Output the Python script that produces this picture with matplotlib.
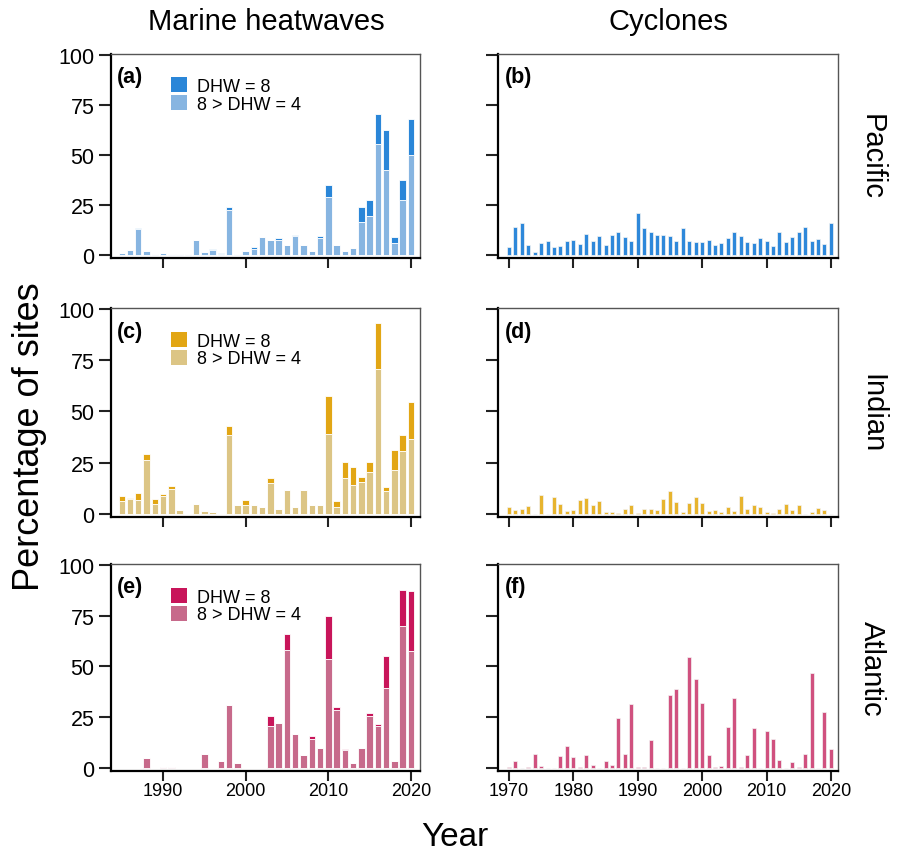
import numpy as np
import matplotlib.pyplot as plt
from matplotlib.patches import Patch

plt.rcParams['font.family'] = ['Liberation Sans', 'DejaVu Sans']

# marine heatwaves, % of sites per year (8 > DHW >= 4 and DHW >= 8)
mhw_years = np.arange(1985, 2021)
pac_mod = [1.0, 2.7, 12.9, 2.2, 0.3, 0.8, 0.3, 0.3, 0.3, 7.4, 1.3, 2.5, 0.5, 22.5, 0.4, 1.9, 3.2, 9.1,
           7.6, 7.6, 5.1, 9.6, 5.2, 2.2, 8.6, 28.8, 5.0, 1.9, 3.7, 16.7, 19.7, 55.4, 42.5, 6.2, 27.3, 50.0]
pac_sev = [0, 0, 0.7, 0, 0, 0, 0, 0, 0, 0, 0, 0.4, 0.5, 1.4, 0, 0, 0.7, 0,
           0, 0.8, 0, 0.5, 0, 0, 1.0, 6.4, 0, 0, 0, 7.2, 7.6, 15.3, 20.0, 2.9, 10.4, 18.2]
ind_mod = [6.4, 7.1, 7.0, 26.4, 4.9, 8.7, 12.0, 2.0, 0, 4.8, 1.5, 1.1, 0, 38.5, 4.3, 4.4, 4.6, 3.2,
           15.2, 2.5, 11.8, 3.4, 11.5, 4.6, 4.6, 38.9, 3.6, 17.7, 13.9, 15.7, 20.7, 70.5, 11.3, 21.6, 30.8, 36.8]
ind_sev = [2.5, 0.8, 3.3, 2.8, 2.3, 1.1, 1.6, 0, 0, 0, 0, 0, 0, 4.6, 0, 2.5, 0, 0,
           2.3, 0, 0, 0, 0, 0, 0, 18.5, 2.8, 7.7, 9.2, 2.5, 4.4, 22.5, 2.0, 9.5, 7.7, 18.0]
atl_mod = [0, 0, 0, 5.0, 0, 0.5, 0.5, 0, 0, 0, 7.1, 0.2, 3.3, 30.9, 2.5, 0, 0, 0,
           20.6, 22.1, 58.3, 16.7, 6.4, 14.4, 9.6, 53.5, 28.8, 8.7, 2.5, 9.6, 25.4, 20.6, 39.3, 3.5, 69.8, 57.4]
atl_sev = [0, 0, 0, 0, 0, 0, 0, 0, 0, 0, 0, 0, 0, 0, 0, 0, 0, 0,
           5.0, 0, 7.9, 0, 0, 1.3, 0, 21.6, 1.2, 0.5, 0, 0, 1.5, 1.3, 16.0, 0, 17.7, 29.9]

# cyclones, % of sites per year
cyc_years = np.arange(1970, 2021)
pac_cyc = [3.8, 14.2, 16.2, 5.0, 1.7, 6.0, 7.0, 4.2, 4.5, 6.8, 7.5, 5.5, 10.7, 7.2, 9.7, 5.2, 10.0,
           11.7, 8.8, 7.0, 21.2, 13.7, 11.3, 10.0, 10.2, 9.3, 7.2, 13.3, 7.0, 6.7, 6.5, 7.7, 5.0, 5.8,
           8.3, 11.7, 9.3, 6.3, 6.0, 8.7, 7.0, 4.7, 11.7, 6.3, 9.2, 11.7, 14.2, 6.8, 8.2, 5.7, 16.0]
ind_cyc = [3.4, 2.1, 2.5, 3.9, 0, 9.3, 0, 8.2, 4.9, 1.3, 2.1, 6.7, 7.9, 4.4, 6.2, 0.8, 0.8,
           0.5, 2.6, 4.6, 0.3, 2.3, 2.6, 2.1, 7.2, 11.0, 5.7, 0.8, 5.2, 8.2, 5.2, 1.5, 2.0, 0.8,
           3.3, 1.5, 8.7, 2.6, 4.6, 3.6, 1.1, 0.3, 2.3, 4.8, 2.1, 4.3, 0, 0.8, 3.0, 1.8, 0]
atl_cyc = [0.3, 3.5, 0, 0.3, 6.7, 1.0, 0, 0, 5.7, 11.0, 5.3, 0.7, 6.3, 1.3, 0, 3.3, 1.3,
           24.5, 7.0, 31.5, 0.3, 0.3, 14.0, 0, 0, 36.0, 39.0, 0, 54.5, 43.8, 32.0, 6.2, 0.3, 0.8,
           20.0, 34.7, 0.3, 6.3, 19.8, 0.2, 18.0, 14.3, 3.7, 0, 2.7, 0.5, 7.0, 46.8, 0, 27.8, 9.2]

oceans = ['Pacific', 'Indian', 'Atlantic']
mods = [pac_mod, ind_mod, atl_mod]
sevs = [pac_sev, ind_sev, atl_sev]
cycs = [pac_cyc, ind_cyc, atl_cyc]
dark = ['#2a86d8', '#e2a614', '#c8155a']
light = ['#87b5e1', '#dcc585', '#c76a8b']
cyc_col = ['#2e88da', '#e7b42e', '#d0517f']
letters = [('(a)', '(b)'), ('(c)', '(d)'), ('(e)', '(f)')]

fig = plt.figure(figsize=(9.03, 8.53), dpi=100)
W, H = 903, 853
rows = [(55, 259), (309, 518), (565, 772)]


def style(ax):
    ax.spines['left'].set_linewidth(1.6)
    ax.spines['bottom'].set_linewidth(1.6)
    for s in ['top', 'right']:
        ax.spines[s].set_linewidth(1.0)
        ax.spines[s].set_color('#555555')
    ax.tick_params(direction='out', width=1.5, colors='#222222', labelcolor='black')
    ax.tick_params(axis='y', labelsize=15.5, length=9, pad=3)
    ax.tick_params(axis='x', labelsize=13, length=7, pad=1)
    ax.set_ylim(-1.5, 100.5)
    ax.set_yticks([0, 25, 50, 75, 100])


for i in range(3):
    top, bot = rows[i]
    axL = fig.add_axes([111 / W, 1 - bot / H, 309 / W, (bot - top) / H])
    axR = fig.add_axes([498 / W, 1 - bot / H, 340 / W, (bot - top) / H])

    axL.bar(mhw_years, mods[i], width=0.78, color=light[i], edgecolor='white', linewidth=0.6)
    axL.bar(mhw_years, sevs[i], width=0.78, bottom=mods[i], color=dark[i], edgecolor='white', linewidth=0.6)
    axL.set_xlim(1983.7, 2021.1)
    axL.set_xticks([1990, 2000, 2010, 2020])
    style(axL)
    axL.text(0.02, 0.94, letters[i][0], transform=axL.transAxes, fontsize=15.5,
             fontweight='bold', va='top', ha='left')
    handles = [Patch(facecolor=dark[i], label='DHW = 8'),
               Patch(facecolor=light[i], label='8 > DHW = 4')]
    axL.legend(handles=handles, loc='upper left', bbox_to_anchor=(0.195, 0.885), frameon=False,
               fontsize=13, handlelength=0.85, handleheight=0.9, handletextpad=0.6,
               labelspacing=0.0, borderaxespad=0, borderpad=0)

    axR.bar(cyc_years, cycs[i], width=0.62, color=cyc_col[i], edgecolor='#f4f4f4', linewidth=0.5)
    axR.set_xlim(1968.3, 2021.1)
    axR.set_xticks([1970, 1980, 1990, 2000, 2010, 2020])
    style(axR)
    axR.set_yticklabels([])
    axR.text(0.02, 0.94, letters[i][1], transform=axR.transAxes, fontsize=15.5,
             fontweight='bold', va='top', ha='left')

    if i < 2:
        axL.set_xticklabels([])
        axR.set_xticklabels([])

    fig.text(872 / W, 1 - (top + bot) / 2 / H, oceans[i], rotation=-90, fontsize=21,
             ha='center', va='center')

fig.text(266 / W, 1 - 22 / H, 'Marine heatwaves', fontsize=21, ha='center', va='center')
fig.text(668 / W, 1 - 22 / H, 'Cyclones', fontsize=21, ha='center', va='center')
fig.text(30 / W, 1 - 437 / H, 'Percentage of sites', fontsize=26, rotation=90,
         ha='center', va='center')
fig.text(455 / W, 1 - 838 / H, 'Year', fontsize=24, ha='center', va='center')

fig.savefig('out.png', dpi=100)
